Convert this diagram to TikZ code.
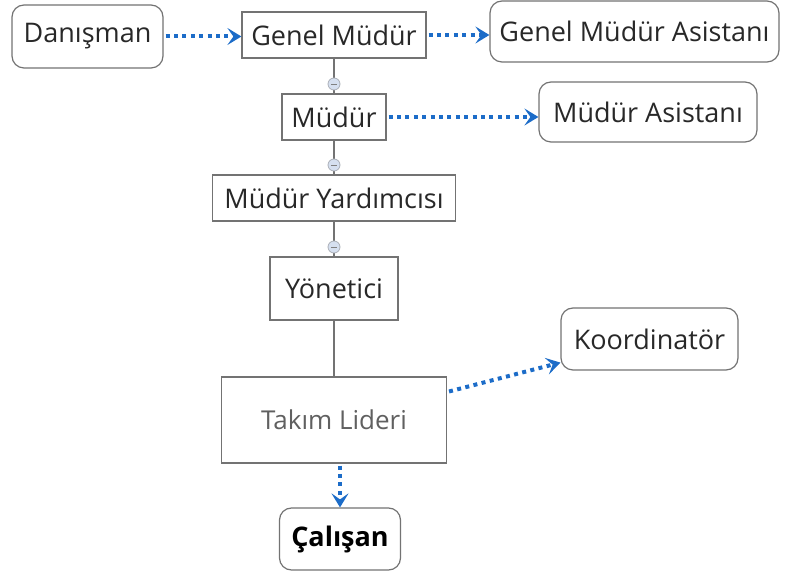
\documentclass[tikz,border=0pt]{standalone}
\usepackage{fontspec}
\setmainfont{Open Sans}
\usetikzlibrary{arrows.meta, positioning}
\definecolor{linkblue}{RGB}{28,108,200}
\definecolor{boxgray}{RGB}{115,115,115}
\definecolor{textgray}{RGB}{40,40,40}
\definecolor{knobfill}{RGB}{214,224,240}

\begin{document}
\begin{tikzpicture}[
    x=0.5pt, y=-0.5pt,
    rolebox/.style={rectangle, draw=boxgray, fill=white, line width=0.6pt, text=textgray, inner sep=0pt, font=\fontsize{13.5}{15}\selectfont},
    softbox/.style={rolebox, rounded corners=6pt},
    knob/.style={circle, draw=knobfill!50!gray, fill=knobfill, line width=0.4pt, minimum size=6pt, inner sep=0pt,
        path picture={\draw[gray, line width=0.4pt] ([xshift=-1.6pt]path picture bounding box.center) -- ([xshift=1.6pt]path picture bounding box.center);}},
    tree/.style={draw=boxgray, line width=0.6pt},
    link/.style={-{Stealth[length=7pt, width=8.5pt, inset=3pt]}, linkblue, line width=2pt, dash pattern=on 2pt off 2.2pt, shorten <=1pt}
]
\useasboundingbox (0,0) rectangle (787,576);

\node[softbox, minimum width=75.5pt, minimum height=31.5pt] (danisman) at (87.5,36.5) {Danışman};
\node[rolebox, minimum width=92pt, minimum height=23pt] (genel) at (334,35) {Genel Müdür};
\node[softbox, minimum width=144.5pt, minimum height=30.5pt] (genelasist) at (634.5,31.5) {Genel Müdür Asistanı};
\node[rolebox, minimum width=52pt, minimum height=23pt] (mudur) at (334,117) {Müdür};
\node[softbox, minimum width=109pt, minimum height=30pt] (mudurasist) at (648,112) {Müdür Asistanı};
\node[rolebox, minimum width=121.5pt, minimum height=23pt] (yardimci) at (334,198) {Müdür Yardımcısı};
\node[rolebox, minimum width=64pt, minimum height=31.5pt] (yonetici) at (334,288.5) {Yönetici};
\node[rolebox, minimum width=112.5pt, minimum height=43pt, text=gray!75!black, font=\fontsize{13}{15}\selectfont] (lider) at (334,420) {Takım Lideri};
\node[softbox, minimum width=88.5pt, minimum height=31pt] (koord) at (649.5,339) {Koordinatör};
\node[softbox, minimum width=60.5pt, minimum height=31pt, text=black, font=\fontsize{13.5}{15}\selectfont\bfseries] (calisan) at (340,539) {Çalışan};

% hierarchy
\draw[tree] (genel) -- (mudur);
\draw[tree] (mudur) -- (yardimci);
\draw[tree] (yardimci) -- (yonetici);
\draw[tree] (yonetici) -- (lider);

% collapse knobs
\node[knob, above=1.5pt of mudur] (knobA) {};
\node[knob, above=1.5pt of yardimci] (knobB) {};
\node[knob, above=1.5pt of yonetici] (knobC) {};

% dotted links
\draw[link] (danisman.east) -- (danisman.east -| genel.west);
\draw[link] (genel.east) -- (genel.east -| genelasist.west);
\draw[link] (mudur.east) -- (mudur.east -| mudurasist.west);
\draw[link] ([yshift=14pt]lider.east) -- ([yshift=4pt]koord.south west);
\draw[link] (lider.south -| calisan.north) -- (calisan.north);

\end{tikzpicture}
\end{document}
